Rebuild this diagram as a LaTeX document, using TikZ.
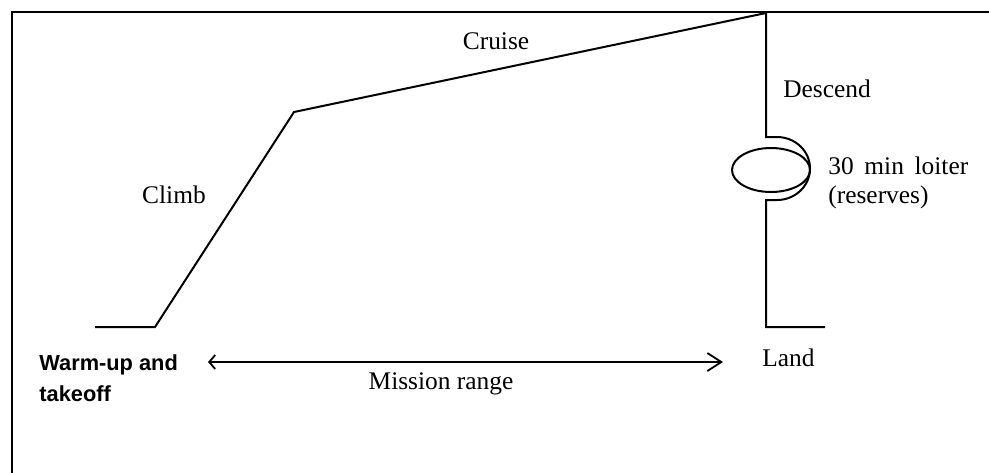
\documentclass[tikz,border=0pt]{standalone}
\usepackage{fontspec}
\setmainfont{Liberation Serif}
\newfontfamily\arialfont{Liberation Sans}
\usepackage{tikz}
\usetikzlibrary{arrows.meta, positioning}

\begin{document}
\begin{tikzpicture}[
    x=0.5pt, y=-0.5pt,
    lbl/.style={inner sep=0pt, font=\fontsize{12.7}{15}\selectfont},
    wlbl/.style={inner sep=0pt, align=left, font=\arialfont\bfseries\fontsize{10.9}{15.5}\selectfont},
    path/.style={line width=1pt, line join=miter},
    arrow/.style={line width=0.9pt, {Straight Barb[length=3pt,width=7pt]}-{Straight Barb[length=7pt,width=9pt]}}
]
\useasboundingbox (0,0) rectangle (989,473);

% Frame
\draw[line width=1.4pt] (12,473) -- (12,12) -- (989,12);

% Mission profile points
\coordinate (start) at (95,327);
\coordinate (roll) at (155,327);
\coordinate (toc) at (294,112);
\coordinate (tod) at (766,13);
\coordinate (loitin) at (766,137);
\coordinate (loitout) at (766,200);
\coordinate (touch) at (766,327);
\coordinate (stop) at (825,327);

% Flight path
\draw[path] (start) -- (roll) -- (toc) -- (tod) -- (loitin) -- ++(11,0)
    arc[start angle=90, end angle=-90, x radius=16.5pt, y radius=15.75pt] -- (loitout) -- (touch) -- (stop);
\draw[path] (771,170) ellipse[x radius=19.5pt, y radius=11pt];

% Labels
\node[lbl] (cruise) at (496,41) {Cruise};
\node[lbl] (climb) at (174,195) {Climb};
\node[lbl] (descend) at (827,89) {Descend};
\node[lbl, anchor=west] (loiter) at (828,166) {30\hspace{0.42em}min\hspace{0.42em}loiter};
\node[lbl, anchor=west] (reserves) at (828,197) {(reserves)};
\node[lbl, anchor=west] (land) at (762,358) {Land};
\node[wlbl, anchor=west] (warmup) at (39,378) {Warm-up and\\takeoff};

% Range
\coordinate (rangeL) at (208,362);
\coordinate (rangeR) at (723,362);
\draw[arrow] (rangeL) -- (rangeR);
\node[lbl] (range) at (441,384) {Mission range};

\end{tikzpicture}
\end{document}
